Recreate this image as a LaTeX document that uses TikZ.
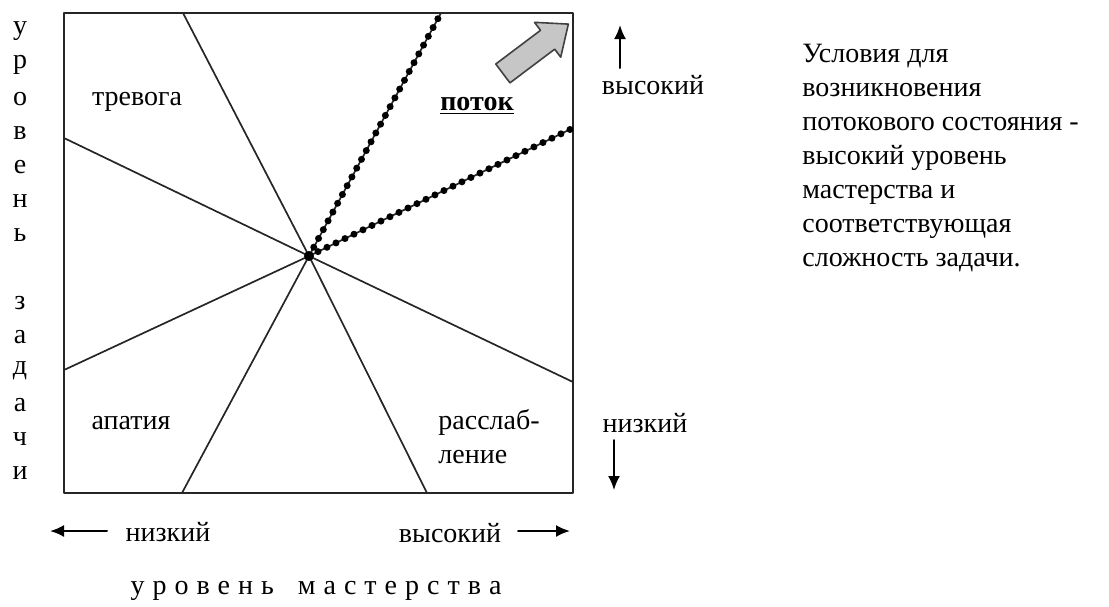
\documentclass[tikz,border=0pt]{standalone}
\usepackage{fontspec}
\setmainfont{Liberation Serif}
\usetikzlibrary{arrows.meta, shapes.arrows}

\tikzset{
  lbl/.style={font=\fontsize{14}{17}\selectfont, inner sep=0pt},
  zoneline/.style={line width=0.85pt, black!85},
  flowdots/.style={line width=3.5pt, line cap=round, dash pattern=on 0pt off 5pt},
  axisarrow/.style={line width=1pt, -{Latex[length=7pt,width=6pt]}},
}

\begin{document}
\begin{tikzpicture}[x=0.5pt,y=-0.5pt,line cap=round,line join=round]
\path[use as bounding box] (0,0) rectangle (1109,606);

\coordinate (NW) at (64,13);
\coordinate (SE) at (573,493);
\coordinate (O) at (309,256);
% ends of the zone lines on the frame
\coordinate (Ltop) at (183,13);
\coordinate (Lbot) at (427,493);
\coordinate (Lleft) at (64,138);
\coordinate (Lright) at (573,382);
\coordinate (Mleft) at (64,370);
\coordinate (Mright) at (573,128);
\coordinate (Mbot) at (182,493);
\coordinate (Mtop) at (441,13);

\draw[line width=1pt, black!85] (NW) rectangle (SE);

\draw[zoneline] (Ltop) -- (O) -- (Lbot);
\draw[zoneline] (Lleft) -- (O) -- (Lright);
\draw[zoneline] (Mleft) -- (O);
\draw[zoneline] (Mbot) -- (O);

% flow channel
\draw[zoneline] (O) -- (Mright);
\draw[zoneline] (O) -- (Mtop);
\draw[flowdots] (O) -- (Mright);
\draw[flowdots] (O) -- (Mtop);
\fill (O) circle (2.5pt);

\node[single arrow, draw=black!75, fill=gray!45, line width=0.8pt,
  minimum height=41pt, inner sep=5.5pt, single arrow head extend=5pt,
  single arrow tip angle=80, rotate=37] (flowarrow) at (530,53) {};

\node[lbl] (worry) at (137,102) {тревога};
\node[lbl] (apathy) at (131,423) {апатия};
\node[lbl, anchor=west, align=left] (relax) at (438,437) {расслаб-\\ление};
\node[lbl] (flow) at (477,106) {\underline{\textbf{поток}}};

% task level
\foreach \ch [count=\i] in {у,р,о,в,е,н,ь,{},з,а,д,а,ч,и}
  \node[lbl] (lv\i) at (20,{31+34*(\i-1)}) {\ch};

\node[lbl] (yhigh) at (653,85) {высокий};
\node[lbl] (ylow) at (645,423) {низкий};
\coordinate (yhighA) at (620,68);
\coordinate (yhighB) at (620,25);
\coordinate (ylowA) at (614,440);
\coordinate (ylowB) at (614,490);
\draw[axisarrow] (yhighA) -- (yhighB);
\draw[axisarrow] (ylowA) -- (ylowB);

% skill level
\node[lbl] (xlow) at (168,532) {низкий};
\node[lbl] (xhigh) at (450,533) {высокий};
\coordinate (xlowA) at (107,531);
\coordinate (xlowB) at (50,531);
\coordinate (xhighA) at (518,531);
\coordinate (xhighB) at (570,531);
\draw[axisarrow] (xlowA) -- (xlowB);
\draw[axisarrow] (xhighA) -- (xhighB);
\node[lbl] (skill) at (316,591) {\spaceskip=4pt у р о в е н ь\ \ \ м а с т е р с т в а};

\node[lbl, anchor=north west, align=left] (cond) at (802,44)
  {Условия для\\возникновения\\потокового состояния -\\высокий уровень\\мастерства и\\соответствующая\\сложность задачи.};
\end{tikzpicture}
\end{document}
